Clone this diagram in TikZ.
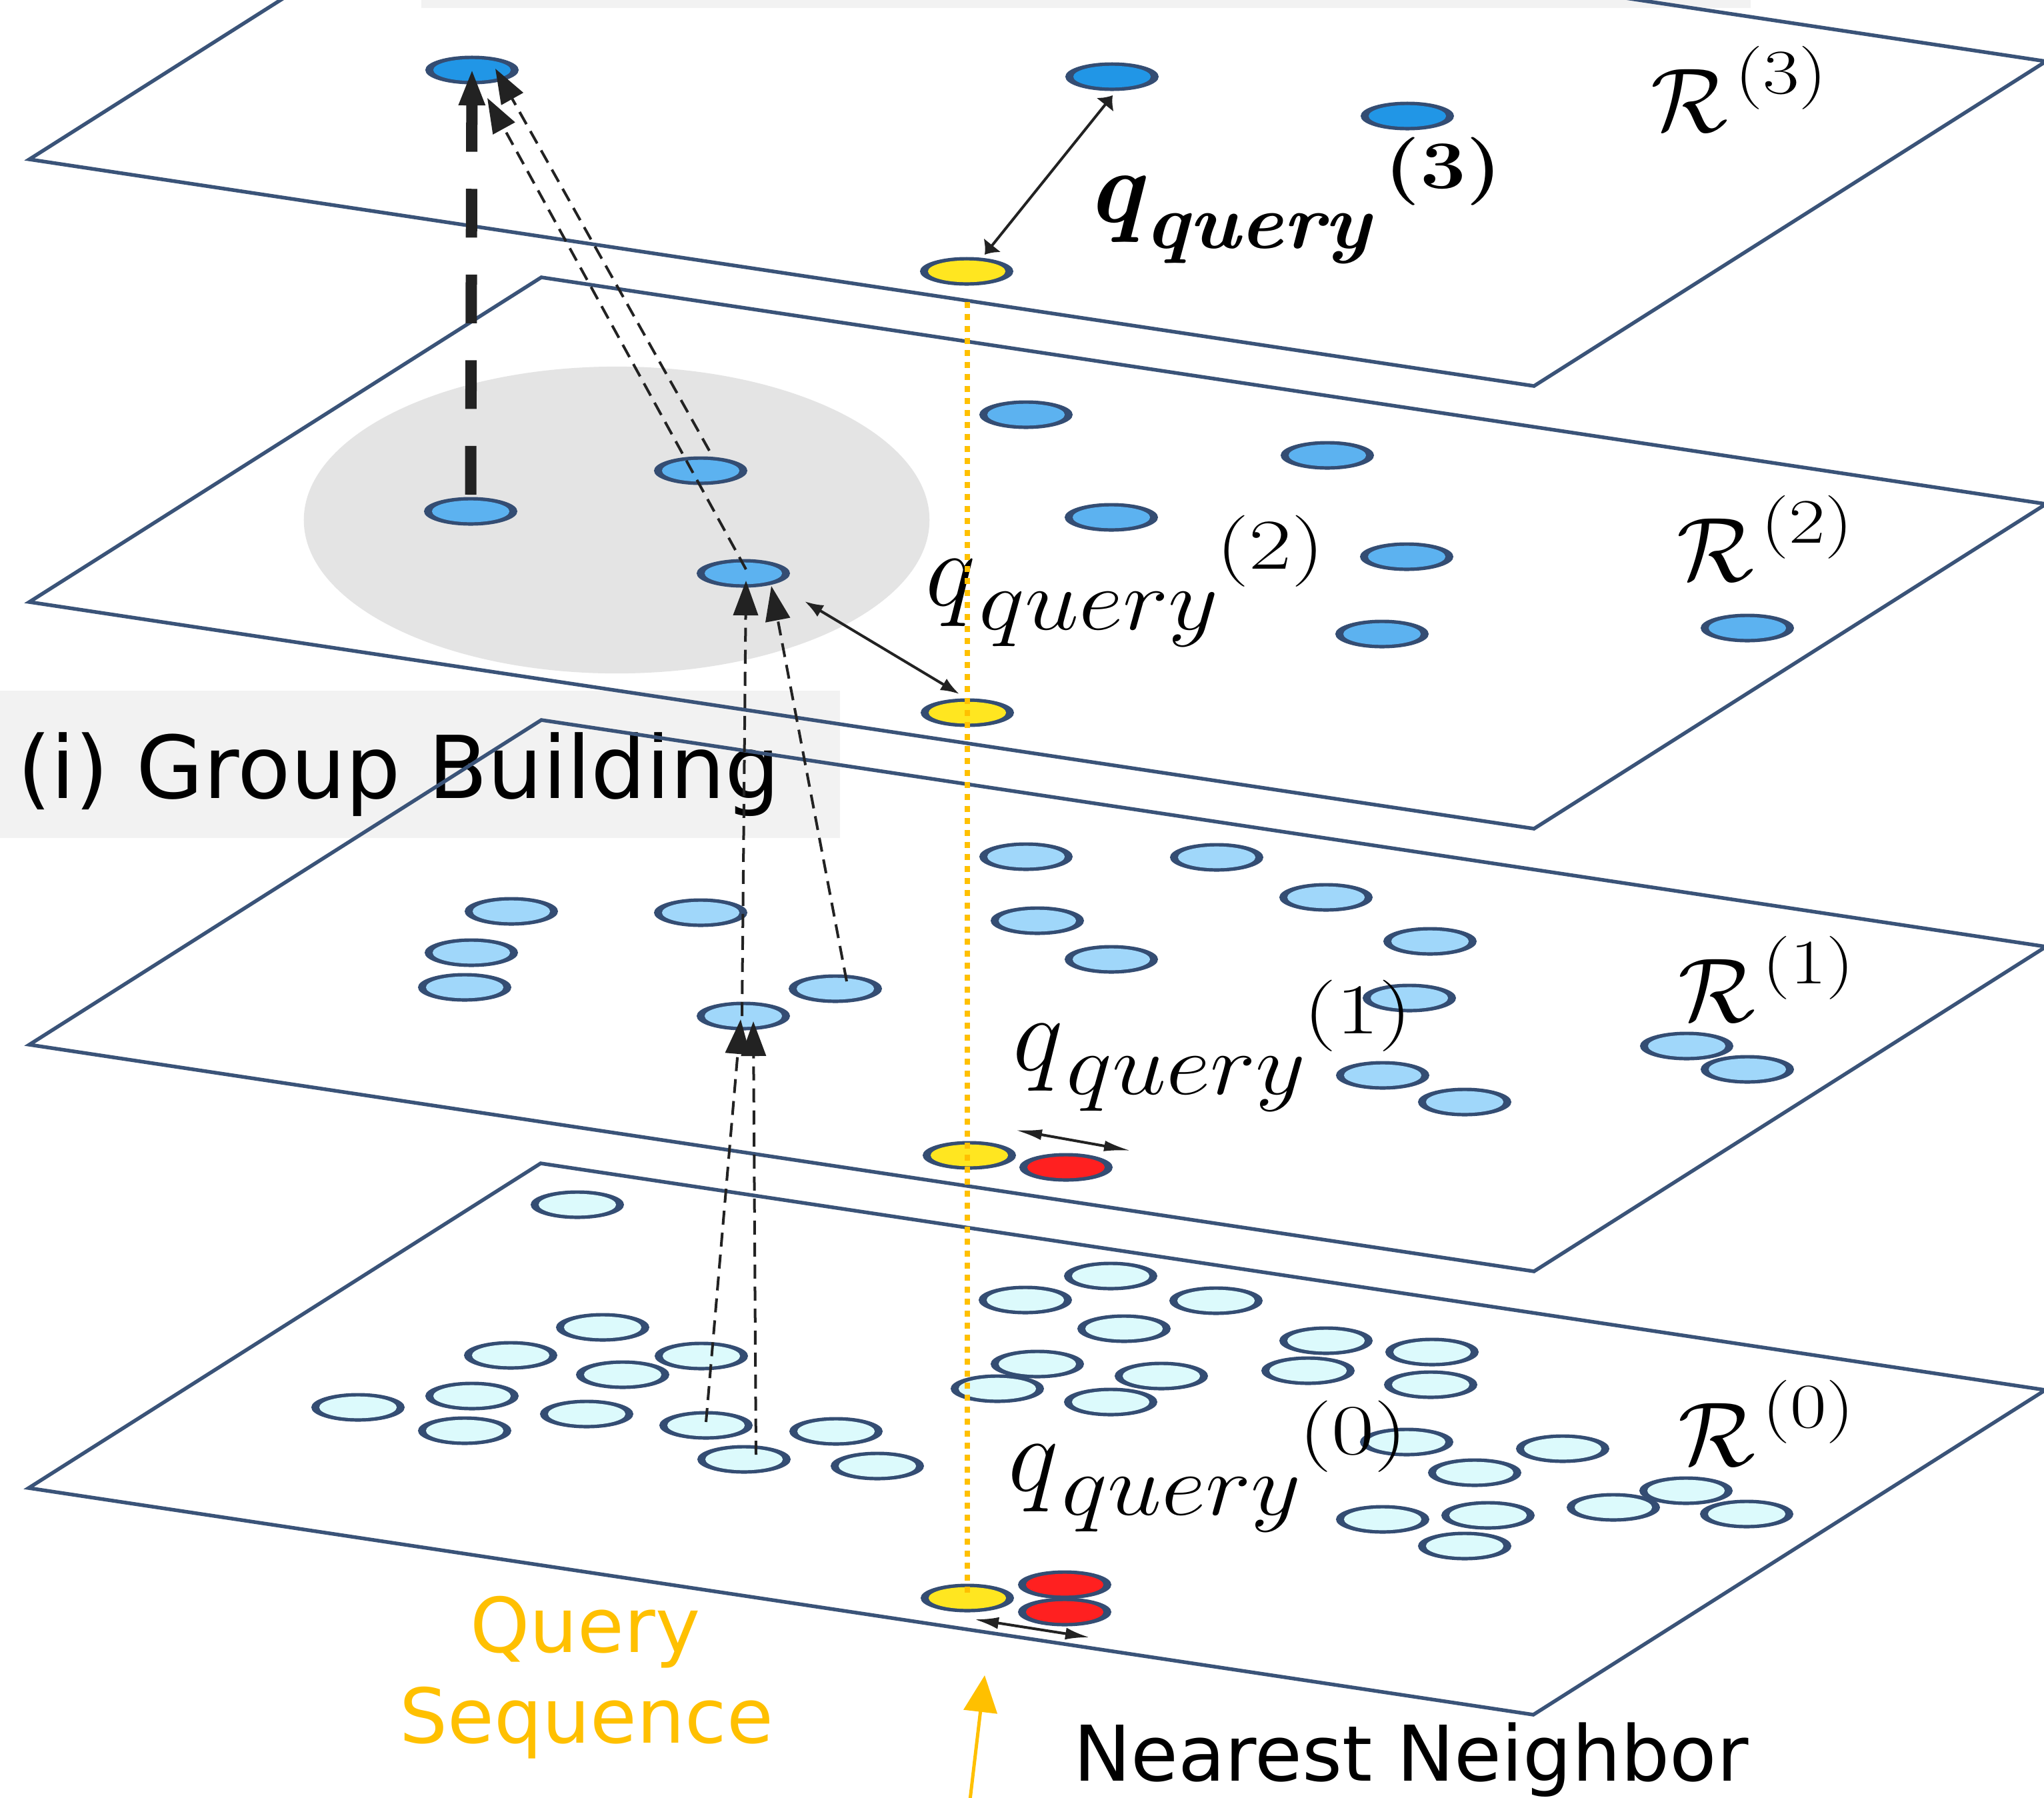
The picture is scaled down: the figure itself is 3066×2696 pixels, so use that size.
\RequirePackage{fix-cm}
\documentclass[tikz,border=0pt]{standalone}
\usepackage[no-math]{fontspec}
\newfontfamily\dejavu{DejaVu Sans}
\usetikzlibrary{shapes.geometric,arrows.meta,calc}
\definecolor{planecol}{RGB}{58,83,120}
\definecolor{dotline}{RGB}{52,77,115}
\definecolor{col3}{RGB}{33,150,230}
\definecolor{col2}{RGB}{92,178,240}
\definecolor{col1}{RGB}{160,215,250}
\definecolor{col0}{RGB}{220,250,252}
\definecolor{qyellow}{RGB}{255,230,32}
\definecolor{nnred}{RGB}{255,32,32}
\definecolor{amber}{RGB}{255,192,0}
\definecolor{arrcol}{RGB}{34,34,34}
\definecolor{boxgrey}{RGB}{242,242,242}
\definecolor{circgrey}{RGB}{228,228,228}
\newcommand{\qlab}[1]{\fontsize{45.6}{50}\selectfont$q$\kern1.5pt\raisebox{-10.5pt}{\scalebox{1.12}[1]{\fontsize{37}{40}\selectfont$query$}}\kern-1pt\raisebox{15.4pt}{\scalebox{1.3}[1]{\fontsize{30.5}{33}\selectfont$(#1)$}}}
\newcommand{\qlabb}[1]{\bfseries\itshape\fontsize{44}{48}\selectfont q\kern1.5pt\raisebox{-11.1pt}{\scalebox{1.06}[1]{\fontsize{33}{36}\selectfont query}}\kern6pt\raisebox{14.5pt}{\scalebox{1.2}[1]{\upshape\fontsize{29}{32}\selectfont (#1)}}}
\newcommand{\Rlab}[1]{\fontsize{38.8}{42}\selectfont$\mathcal{R}$\kern3pt\raisebox{16pt}{\scalebox{1.25}[1]{\fontsize{27}{30}\selectfont$(#1)$}}}
\tikzset{
  plane/.style={draw=planecol, line width=0.055cm, line join=miter},
  dotbase/.style={ellipse, fill=dotline, minimum width=1.40cm, minimum height=0.43cm, inner sep=0pt,
    path picture={\fill[#1] (path picture bounding box.center) ellipse [x radius=0.58cm, y radius=0.163cm];}},
  c0/.style={dotbase=col0},
  c1/.style={dotbase=col1},
  c2/.style={dotbase=col2},
  c3/.style={dotbase=col3},
  cy/.style={dotbase=qyellow},
  cr/.style={dotbase=nnred},
  thindash/.style={draw=arrcol, line width=0.04cm, dash pattern=on 0.21cm off 0.12cm, -{Triangle[length=0.52cm, width=0.37cm]}},
  thickdash/.style={draw=arrcol, line width=0.17cm, dash pattern=on 0.73cm off 0.555cm, -{Triangle[length=0.55cm, width=0.36cm]}},
  dbl/.style={draw=arrcol, line width=0.04cm, {Latex[#1]}-{Latex[#1]}},
  qdot/.style={draw=amber, line width=0.085cm, dash pattern=on 0.09cm off 0.09cm},
  orarrow/.style={draw=amber, line width=0.05cm, -{Triangle[length=0.55cm, width=0.5cm]}},
  lab/.style={anchor=base west, inner sep=0pt, outer sep=0pt},
}
\begin{document}
\begin{tikzpicture}[x=0.01cm, y=-0.01cm]
\useasboundingbox (0,0) rectangle (3066,2696);
\fill[white] (0,0) rectangle (3066,2696);
\begin{scope}
\clip (0,0) rectangle (3066,2696);
% grey bars
\fill[boxgrey] (632,0) rectangle (2626,12);
\fill[boxgrey] (0,1036) rectangle (1260,1257);
\node[lab, font=\dejavu\fontsize{37}{40}\selectfont] (gb) at (26,1197) {(i) Group Building};
% planes
\draw[plane] (811,1745) -- ++(2257,340) -- ++(-768,487) -- ++(-2257,-340) -- cycle;
\draw[plane] (812,1080) -- ++(2257,340) -- ++(-768,487) -- ++(-2257,-340) -- cycle;
\draw[plane] (812,416) -- ++(2257,340) -- ++(-768,487) -- ++(-2257,-340) -- cycle;
\draw[plane] (812,-248) -- ++(2257,340) -- ++(-768,487) -- ++(-2257,-340) -- cycle;
% grey group circle
\fill[circgrey] (925,780) ellipse [x radius=4.69cm, y radius=2.30cm];
% layer 3
\node[c3] (t3a) at (708,105) {};
\node[c3] (t3b) at (1668,115) {};
\node[c3] (t3c) at (2111,174) {};
\node[cy] (y3) at (1450,407) {};
% layer 2
\node[c2] (l2d) at (1539,622) {};
\node[c2] (l2e) at (1991,683) {};
\node[c2] (l2b) at (1051,706) {};
\node[c2] (l2a) at (706,767) {};
\node[c2] (l2f) at (1667,776) {};
\node[c2] (l2g) at (2110,835) {};
\node[c2] (l2c) at (1115,860) {};
\node[c2] (l2h) at (2621,942) {};
\node[c2] (l2i) at (2073,951) {};
\node[cy] (y2) at (1451,1069) {};
% layer 1
\foreach \px/\py [count=\i] in {1539/1285, 1825/1286, 1989/1346, 767/1367, 1051/1369, 1556/1381, 2145/1412, 707/1429, 1667/1439, 697/1481}
  \node[c1] (l1a\i) at (\px,\py) {};
\node[c1] (e1) at (1253,1483) {};
\node[c1] (l1b) at (2114,1497) {};
\node[c1] (g1) at (1115,1524) {};
\foreach \px/\py [count=\i] in {2530/1569, 2621/1604, 2074/1613, 2197/1653}
  \node[c1] (l1c\i) at (\px,\py) {};
\node[cy] (y1) at (1454,1733) {};
\node[cr] (r1) at (1599,1751) {};
% layer 0
\foreach \px/\py [count=\i] in {866/1807, 1666/1914, 1538/1950, 1824/1951, 904/1991, 1686/1993, 1989/2011, 2148/2028, 766/2033, 1052/2034, 1556/2046, 1962/2056, 934/2062, 1742/2064, 2146/2077, 1496/2083, 708/2094, 1666/2103, 537/2111, 880/2121}
  \node[c0] (l0a\i) at (\px,\py) {};
\node[c0] (d0a) at (1059,2138) {};
\foreach \px/\py [count=\i] in {697/2146, 1254/2147, 2110/2163, 2344/2173}
  \node[c0] (l0b\i) at (\px,\py) {};
\node[c0] (d0b) at (1116,2189) {};
\foreach \px/\py [count=\i] in {1316/2199, 2212/2209, 2529/2236, 2420/2261, 2232/2273, 2620/2271, 2074/2279, 2197/2319}
  \node[c0] (l0c\i) at (\px,\py) {};
\node[cy] (y0) at (1451,2397) {};
\node[cr] (r0a) at (1597,2377) {};
\node[cr] (r0b) at (1597,2418) {};
% labels
\node[lab] (q3) at (1630,333) {\qlabb{3}};
\node[lab] (q2) at (1388,908) {\qlab{2}};
\node[lab] (q1) at (1519,1605) {\qlab{1}};
\node[lab] (q0) at (1512,2236) {\qlab{0}};
\node[lab] (R3) at (2476,197) {\Rlab{3}};
\node[lab] (R2) at (2515,871) {\Rlab{2}};
\node[lab] (R1) at (2517,1532) {\Rlab{1}};
\node[lab] (R0) at (2517,2198) {\Rlab{0}};
% group-building arrows
\draw[thindash] ($(d0a)+(0,-5)$) -- ($(g1)+(-4,5)$);
\draw[thindash] ($(d0b)+(18,-7)$) -- ($(g1)+(15,8)$);
\draw[thindash] ($(g1)+(-2,0)$) -- ($(l2c)+(4,11)$);
\draw[thindash] ($(e1)+(17,-11)$) -- ($(l2c)+(42,19)$);
\draw[thindash] ($(l2b)+(13,-30)$) -- ($(t3a)+(35,-2)$);
\draw[thindash] ($(l2c)+(4,-6)$) -- ($(t3a)+(23,42)$);
\draw[thickdash] ($(l2a)+(0,-25)$) -- ($(t3a)+(0,-2)$);
% nearest-neighbour arrows
\draw[dbl={length=0.18cm, width=0.34cm}] ($(t3b)+(1,28)$) -- ($(y3)+(27,-25)$);
\draw[dbl={length=0.28cm, width=0.2cm}] ($(l2c)+(92,42)$) -- ($(y2)+(-12,-28)$);
\draw[dbl={length=0.4cm, width=0.16cm}] ($(y1)+(69,-38)$) -- ($(r1)+(97,-25)$);
\draw[dbl={length=0.36cm, width=0.18cm}] ($(y0)+(11,32)$) -- ($(r0b)+(37,38)$);
% query sequence line
\draw[qdot] ($(y3)+(1,46)$) -- (y0.center);
% bottom texts
\node[anchor=base, inner sep=0pt, text=amber, font=\dejavu\fontsize{32.3}{36}\selectfont] (qs1) at (878,2478) {Query};
\node[anchor=base, inner sep=0pt, text=amber, font=\dejavu\fontsize{32.3}{36}\selectfont] (qs2) at (880,2614) {Sequence};
\node[lab, font=\dejavu\fontsize{32.8}{36}\selectfont] (nn) at (1610,2671) {Nearest Neighbor};
\coordinate (nnS) at (1455,2700);
\coordinate (nnT) at (1477,2513);
\draw[orarrow] (nnS) -- (nnT);
\end{scope}
\end{tikzpicture}
\end{document}
